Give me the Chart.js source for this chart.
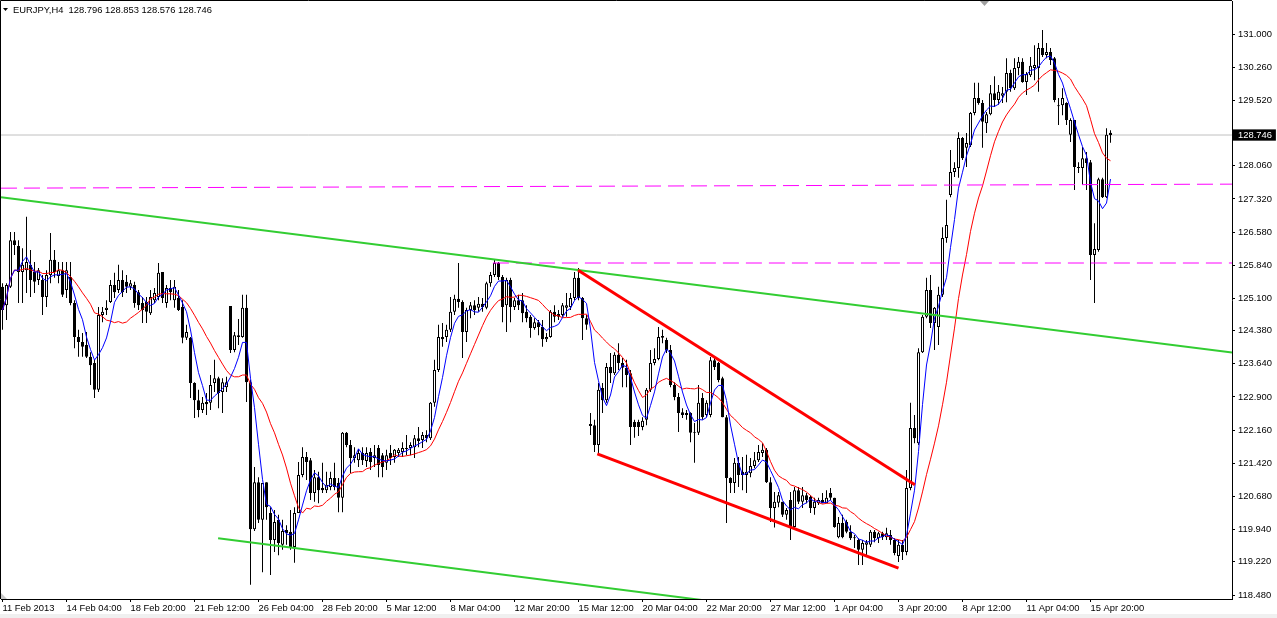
<!DOCTYPE HTML>
<html>
<head>
<script src="https://cdn.jsdelivr.net/npm/chart.js"></script>
<style>
  html, body { margin: 0; padding: 0; background: #fff; }
  #wrap { position: relative; width: 1277px; height: 618px; }
</style>
</head>
<body>
<div id="wrap"><canvas id="eurjpy-chart"></canvas></div>
<script>
const symbol = 'EURJPY,H4';

// time axis: one label every 16 H4 bars, starting at bar 0
const timeLabels = ['11 Feb 2013', '14 Feb 04:00', '18 Feb 20:00', '21 Feb 12:00', '26 Feb 04:00',
  '28 Feb 20:00', '5 Mar 12:00', '8 Mar 04:00', '12 Mar 20:00', '15 Mar 12:00', '20 Mar 04:00',
  '22 Mar 20:00', '27 Mar 12:00', '1 Apr 04:00', '3 Apr 20:00', '8 Apr 12:00', '11 Apr 04:00', '15 Apr 20:00'];
const labelEvery = 16;

const priceTicks = [131.000, 130.260, 129.520, 128.746, 128.060, 127.320, 126.580, 125.840, 125.100,
  124.380, 123.640, 122.900, 122.160, 121.420, 120.680, 119.940, 119.220, 118.480];
const bidPrice = 128.746;

const opens = [
  125.36,124.95,125.36,126.40,126.27,125.69,125.73,125.85,125.69,125.51,
  125.51,125.13,125.62,125.96,125.60,125.73,125.29,125.58,125.00,124.24,
  124.13,124.06,123.80,123.66,123.06,124.73,124.84,125.02,125.40,125.29,
  125.51,125.47,125.36,125.40,125.24,125.00,125.02,124.77,125.06,125.13,
  125.69,125.00,125.33,125.06,125.11,124.91,124.22,124.22,123.21,122.83,
  122.61,122.79,122.77,123.21,123.32,123.01,123.12,124.93,123.95,124.28,
  124.24,124.89,123.23,119.95,121.00,120.16,121.00,120.31,119.71,120.16,
  119.60,119.93,119.89,119.55,120.31,121.16,121.56,121.49,120.76,121.11,
  120.87,120.82,120.89,121.09,120.98,120.65,122.10,121.83,121.54,121.49,
  121.65,121.47,121.67,121.54,121.76,121.60,121.43,121.65,121.56,121.65,
  121.67,121.76,121.76,121.78,121.98,121.94,122.05,121.98,122.77,123.50,
  124.24,124.24,124.40,124.80,125.09,125.02,124.35,124.84,124.95,124.89,
  124.98,124.89,125.44,125.62,125.89,125.58,124.95,125.51,124.91,125.06,
  125.06,124.80,124.69,124.44,124.57,124.46,124.19,124.24,124.80,124.75,
  124.73,124.89,124.91,125.11,125.56,125.11,124.66,122.30,122.27,121.83,
  123.10,122.83,123.57,123.43,123.84,123.66,123.55,123.43,122.34,122.34,
  122.23,122.39,123.06,123.66,123.75,124.22,124.17,123.95,123.17,122.90,
  122.56,122.54,122.54,122.10,122.10,122.88,122.50,122.50,123.72,123.66,
  123.32,122.45,121.09,120.98,121.43,121.23,121.16,121.20,121.36,121.49,
  121.65,121.72,121.00,120.42,120.54,120.56,120.27,120.60,120.00,120.82,
  120.56,120.71,120.67,120.42,120.53,120.60,120.53,120.76,120.65,119.77,
  120.09,120.11,119.89,119.77,119.71,119.49,119.60,119.60,119.89,119.75,
  119.86,119.77,119.82,119.71,119.35,119.60,119.44,120.87,122.21,121.87,
  123.90,124.69,125.29,124.55,124.46,125.18,126.45,127.41,127.92,128.01,
  128.68,128.46,128.52,129.24,129.57,129.46,129.01,129.21,129.68,129.53,
  129.62,129.71,130.13,129.79,130.24,130.38,129.93,130.08,130.24,130.24,
  130.69,130.53,130.60,130.46,129.39,129.41,129.46,128.75,129.08,128.03,
  128.01,128.23,128.14,126.07,126.18,127.76,127.36,128.796];

const highs = [
  125.44,125.44,126.58,126.58,126.40,126.22,126.92,126.18,125.91,125.78,
  125.62,125.73,126.56,126.18,125.91,125.91,125.91,125.91,125.06,124.40,
  124.33,124.35,123.90,123.73,124.91,124.91,125.06,125.51,125.67,125.85,
  125.73,125.62,125.51,125.47,125.29,125.13,125.13,125.29,125.33,125.89,
  125.69,125.40,125.51,125.51,125.29,125.06,124.51,124.24,123.23,123.06,
  122.90,122.99,123.39,123.73,123.35,123.32,123.35,124.93,124.35,124.64,
  125.18,125.18,123.28,121.34,121.11,120.98,121.00,120.44,120.38,120.27,
  120.16,120.04,120.38,120.44,121.45,121.78,121.67,121.54,121.27,121.23,
  121.43,121.23,121.23,121.43,121.09,122.12,122.12,121.94,121.78,121.74,
  121.78,121.78,121.76,121.83,121.83,121.65,121.72,121.83,121.74,121.76,
  121.89,122.05,121.89,122.05,122.23,122.12,122.16,122.79,123.73,124.51,
  124.55,124.51,125.13,125.18,125.89,125.06,124.89,125.02,125.06,125.13,
  125.11,125.47,125.69,125.96,125.91,125.62,125.56,125.56,125.11,125.18,
  125.22,124.95,124.73,124.66,124.62,124.62,124.33,124.84,124.95,124.84,
  125.00,125.22,125.22,125.69,125.78,125.13,124.73,122.54,122.39,123.21,
  123.21,123.66,123.88,123.90,124.10,123.77,123.73,123.50,122.39,122.39,
  122.45,123.10,123.95,123.99,124.46,124.40,124.22,124.06,123.23,122.99,
  122.65,122.61,122.56,122.32,123.17,122.99,122.83,123.79,123.77,123.68,
  123.35,122.50,121.11,121.54,121.56,121.56,121.61,121.54,121.67,121.83,
  121.87,121.76,121.11,120.78,120.78,120.56,120.42,120.78,120.89,120.89,
  120.89,120.76,120.71,120.65,120.65,120.76,120.82,120.87,120.65,120.22,
  120.27,120.16,120.04,119.82,119.75,119.71,119.71,119.93,119.93,119.89,
  119.89,119.98,119.93,119.75,119.71,119.71,121.27,122.77,122.50,123.99,
  124.73,125.56,125.62,124.91,125.36,126.69,127.30,128.41,128.14,128.81,
  128.70,128.79,129.26,129.91,129.91,129.53,129.26,129.86,130.06,129.86,
  129.82,130.46,130.20,130.46,130.49,130.46,130.15,130.49,130.75,130.80,
  131.09,130.80,130.69,130.49,129.57,129.79,129.48,129.12,129.08,128.14,
  128.48,128.37,128.19,126.78,127.79,127.79,128.90,128.853];

const lows = [
  124.40,124.62,125.33,126.07,125.00,125.00,125.22,125.13,125.22,125.40,
  124.73,124.91,125.44,125.56,125.44,125.13,125.11,124.95,123.99,123.80,
  123.80,123.77,123.17,122.88,123.01,124.57,124.73,125.00,125.11,125.22,
  125.13,125.22,125.29,124.89,124.84,124.55,124.55,124.73,125.00,125.06,
  125.00,124.89,125.06,124.89,124.82,124.10,124.17,122.88,122.43,122.45,
  122.54,122.50,122.61,123.01,122.65,122.54,123.01,123.88,123.90,124.06,
  124.22,122.79,118.71,119.91,120.09,118.99,120.16,118.93,119.44,119.37,
  119.49,119.60,119.49,119.20,120.31,121.11,121.05,120.60,120.56,120.53,
  120.76,120.76,120.82,120.82,120.33,120.33,121.78,121.20,121.43,121.34,
  121.38,121.34,121.27,121.34,121.11,121.11,121.27,121.38,121.43,121.56,
  121.56,121.60,121.60,121.54,121.78,121.76,121.89,121.94,122.68,123.46,
  124.02,124.13,124.35,124.73,124.89,123.77,124.13,124.66,124.73,124.80,
  124.80,124.86,125.36,125.58,125.51,124.57,124.35,124.57,124.84,124.84,
  124.57,124.57,124.22,124.40,124.28,124.02,124.13,124.22,124.57,124.62,
  124.69,124.69,124.84,125.06,125.06,124.17,124.40,122.05,121.67,121.65,
  122.54,122.77,123.21,123.39,123.50,123.12,123.12,121.83,121.99,122.03,
  122.16,122.27,123.01,123.61,123.72,124.10,123.88,123.12,122.83,122.12,
  122.43,122.39,121.89,121.43,122.05,122.39,122.45,122.45,123.50,123.23,
  122.45,120.09,120.76,120.76,120.89,120.82,120.76,121.11,121.31,121.45,
  121.56,120.98,120.11,119.99,120.44,120.22,120.16,119.71,119.98,120.51,
  120.42,120.53,120.31,120.27,120.49,120.53,120.53,120.60,119.98,119.75,
  119.75,119.86,119.71,119.53,119.15,119.15,119.33,119.55,119.66,119.64,
  119.71,119.71,119.60,119.37,119.22,119.26,119.37,120.82,121.87,121.83,
  123.88,124.66,124.44,123.95,124.06,125.13,126.34,127.36,127.81,127.79,
  128.19,128.03,128.48,129.19,129.42,128.46,128.79,129.19,129.37,129.42,
  129.46,129.48,129.71,129.75,130.08,129.91,129.64,130.04,129.97,129.71,
  130.49,130.46,130.31,129.48,128.97,129.19,128.97,128.59,127.52,127.90,
  127.63,127.52,125.51,125.00,126.14,127.34,127.34,128.576];

const closes = [
  124.84,125.40,126.40,126.29,125.69,125.85,125.91,125.51,125.47,125.73,
  125.13,125.62,125.96,125.69,125.73,125.18,125.73,125.00,124.24,124.13,
  124.02,123.80,123.61,123.06,124.73,124.80,124.89,125.40,125.24,125.51,
  125.24,125.36,125.44,125.00,124.95,124.84,124.80,125.13,125.22,125.67,
  125.11,125.33,125.24,125.36,124.84,124.22,124.35,123.21,122.83,122.61,
  122.77,122.74,123.17,123.32,122.99,123.23,123.23,123.95,124.28,124.24,
  124.89,123.23,119.95,121.00,120.16,120.98,120.44,119.71,120.11,119.64,
  119.91,119.86,119.55,120.31,121.16,121.56,121.45,120.76,121.11,120.82,
  120.82,120.94,121.09,120.89,120.65,122.10,121.83,121.54,121.60,121.65,
  121.49,121.65,121.45,121.60,121.38,121.34,121.60,121.54,121.72,121.72,
  121.76,121.74,121.83,121.98,121.92,122.05,121.98,122.77,123.50,124.24,
  124.19,124.40,124.80,125.09,125.02,124.35,124.84,124.95,124.84,124.98,
  124.91,125.44,125.62,125.89,125.58,124.91,125.51,124.91,125.06,124.95,
  124.77,124.66,124.44,124.57,124.46,124.19,124.24,124.80,124.69,124.69,
  124.95,124.95,125.11,125.56,125.11,124.66,124.51,122.25,121.83,123.06,
  122.83,123.57,123.43,123.84,123.66,123.55,123.39,122.23,122.23,122.23,
  122.37,123.06,123.66,123.75,124.24,124.26,123.95,123.17,122.90,122.54,
  122.50,122.50,122.10,122.12,122.77,122.45,122.77,123.72,123.57,123.28,
  122.45,121.09,120.98,121.43,121.16,121.16,121.23,121.36,121.49,121.67,
  121.72,121.00,120.42,120.56,120.71,120.27,120.38,120.00,120.82,120.56,
  120.71,120.60,120.42,120.56,120.60,120.53,120.65,120.65,120.00,120.09,
  119.77,119.89,119.75,119.75,119.49,119.64,119.66,119.89,119.75,119.86,
  119.77,119.86,119.71,119.42,119.60,119.44,120.87,122.21,121.98,123.90,
  124.69,125.29,124.55,124.89,125.18,126.45,126.74,127.92,128.01,128.68,
  128.23,128.57,129.24,129.57,129.46,129.04,129.21,129.68,129.53,129.71,
  129.68,130.13,129.79,130.24,130.38,129.93,130.11,130.29,130.31,130.69,
  130.53,130.60,130.42,129.53,129.41,129.57,129.08,129.08,128.03,128.01,
  128.23,128.12,126.07,126.20,127.76,127.36,128.75,128.746];

// objects drawn on the chart: [bar index, price] end points
const upperTrend = [[-0.375, 127.36], [307.375, 123.89]];
const lowerTrend = [[53.9, 119.75], [180, 118.31]];
const wedgeTop = [[143.9, 125.73], [228.1, 120.94]];
const wedgeBottom = [[148.7, 121.63], [224.0, 119.08]];
const levelHigh = [[-0.375, 127.56], [307.375, 127.65]];
const levelLow = [[122.6, 125.89], [307.375, 125.89]];

// the two moving averages as the terminal plots them (simple, on close)
const fastPeriod = 5;
const slowPeriod = 14;

const xMin = -0.375, xMax = 307.375;
const yMin = 118.392, yMax = 131.737;

function sma(src, n) {
  return src.map((_, i) => {
    const win = src.slice(Math.max(0, i - n + 1), i + 1);
    return win.reduce((a, b) => a + b, 0) / win.length;
  });
}

const idx = closes.map((_, i) => i);
const wicks = idx.map(i => ({x: i, y: [lows[i], highs[i]]}));
const bodies = idx.map(i => ({x: i, y: [Math.min(opens[i], closes[i]), Math.max(opens[i], closes[i])]}));
const bodyFill = idx.map(i => closes[i] >= opens[i] ? '#ffffff' : '#000000');
const fastMa = sma(closes, fastPeriod);
const slowMa = sma(closes, slowPeriod);

function segment(pairs, color, width, dash, order) {
  return {
    type: 'line',
    data: pairs.map(p => ({x: p[0], y: p[1]})),
    borderColor: color,
    borderWidth: width,
    borderDash: dash || [],
    pointRadius: 0,
    fill: false,
    clip: 0,
    order: order
  };
}

const tickFont = {family: 'Liberation Sans', size: 9.4};

const chrome = {
  id: 'chrome',
  beforeDraw(chart) {
    const ctx = chart.ctx;
    ctx.save();
    ctx.fillStyle = '#ffffff';
    ctx.fillRect(0, 0, chart.width, chart.height);
    ctx.fillStyle = '#f0f0f0';
    ctx.fillRect(0, 614, chart.width, 4);
    ctx.restore();
  },
  afterDraw(chart) {
    const ctx = chart.ctx;
    const a = chart.chartArea;
    const last = closes.length - 1;
    ctx.save();
    ctx.strokeStyle = '#000';
    ctx.lineWidth = 1;
    ctx.beginPath();
    ctx.moveTo(0.5, a.bottom);
    ctx.lineTo(0.5, 0.5);
    ctx.lineTo(a.right, 0.5);
    ctx.stroke();

    // chart shift marker and corner mark
    ctx.fillStyle = '#a0a0a0';
    ctx.beginPath();
    ctx.moveTo(980, 1); ctx.lineTo(989, 1); ctx.lineTo(984.5, 6);
    ctx.fill();
    ctx.fillStyle = '#c8c8c8';
    ctx.beginPath();
    ctx.moveTo(1, 593); ctx.lineTo(1, 599); ctx.lineTo(7, 599);
    ctx.fill();

    // header
    ctx.fillStyle = '#000';
    ctx.beginPath();
    ctx.moveTo(3, 8); ctx.lineTo(8, 8); ctx.lineTo(5.5, 11);
    ctx.fill();
    ctx.font = '9.4px "Liberation Sans"';
    ctx.textBaseline = 'middle';
    const head = symbol + '  ' + [opens[last], highs[last], lows[last], closes[last]].map(v => v.toFixed(3)).join(' ');
    ctx.fillText(head, 13, 10);
    ctx.restore();
  }
};

new Chart(document.getElementById('eurjpy-chart'), {
  type: 'bar',
  data: {
    datasets: [
      segment(wedgeTop, '#ff0000', 3, null, 1),
      segment(wedgeBottom, '#ff0000', 3, null, 1),
      segment(upperTrend, '#32cd32', 2, null, 1),
      segment(lowerTrend, '#32cd32', 2, null, 1),
      segment(levelHigh, '#ff00ff', 1, [16, 7], 2),
      segment(levelLow, '#ff00ff', 1, [16, 7], 2),
      {type: 'line', data: idx.map(i => ({x: i, y: fastMa[i]})), borderColor: '#0000ff', borderWidth: 1,
        pointRadius: 0, fill: false, clip: 0, order: 3},
      {type: 'line', data: idx.map(i => ({x: i, y: slowMa[i]})), borderColor: '#ff0000', borderWidth: 1,
        pointRadius: 0, fill: false, clip: 0, order: 4},
      {type: 'bar', data: bodies, backgroundColor: bodyFill, borderColor: '#000', borderWidth: 1,
        borderSkipped: false, barThickness: 3, grouped: false, inflateAmount: 0, order: 5},
      {type: 'bar', data: wicks, backgroundColor: '#000', borderWidth: 0,
        barThickness: 1, grouped: false, inflateAmount: 0, order: 6},
      segment([[xMin, bidPrice], [xMax, bidPrice]], '#c0c0c0', 1, null, 7)
    ]
  },
  options: {
    responsive: true,
    maintainAspectRatio: false,
    animation: false,
    events: [],
    layout: {padding: {left: 1, top: 1, right: 0, bottom: 0}},
    plugins: {legend: {display: false}, tooltip: {enabled: false}},
    scales: {
      x: {
        type: 'linear',
        min: xMin,
        max: xMax,
        offset: false,
        grid: {display: true, offset: false, drawOnChartArea: false, drawTicks: true, tickLength: 3, color: '#000'},
        border: {display: true, color: '#000'},
        ticks: {
          autoSkip: false, maxRotation: 0, align: 'start', padding: 1, color: '#000', font: tickFont,
          callback: (v, i) => timeLabels[i]
        },
        afterBuildTicks: s => { s.ticks = timeLabels.map((_, k) => ({value: k * labelEvery})); },
        afterFit: s => { s.height = 19; s.paddingLeft = 0; s.paddingRight = 0; }
      },
      y: {
        position: 'right',
        min: yMin,
        max: yMax,
        grid: {display: true, drawOnChartArea: false, drawTicks: true, tickLength: 3, color: '#000'},
        border: {display: true, color: '#000'},
        ticks: {
          autoSkip: false, padding: 3, font: tickFont,
          color: c => c.tick && c.tick.value === bidPrice ? '#ffffff' : '#000000',
          showLabelBackdrop: c => !!(c.tick && c.tick.value === bidPrice),
          backdropColor: '#000000',
          backdropPadding: {left: 5, right: 4, top: 0, bottom: 0},
          callback: v => Number(v).toFixed(3)
        },
        afterBuildTicks: s => { s.ticks = priceTicks.map(v => ({value: v})); },
        afterFit: s => { s.width = 45; s.paddingTop = 0; s.paddingBottom = 0; }
      }
    }
  },
  plugins: [chrome]
});
</script>
</body>
</html>
